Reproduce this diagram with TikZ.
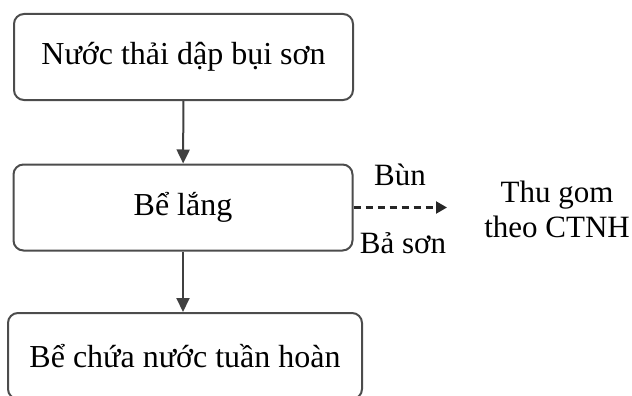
\documentclass[tikz,border=0pt]{standalone}
\usepackage{fontspec}
\setmainfont{Liberation Serif}
\usetikzlibrary{arrows.meta, positioning}

\begin{document}
\begin{tikzpicture}[x=1pt, y=-1pt,
    box/.style={draw=black!70, line width=2pt, rounded corners=10pt, inner sep=0pt,
        align=center, font=\fontsize{32}{38}\selectfont},
    flow/.style={draw=black!75, line width=2pt, -{Triangle[width=13pt,length=14pt]}},
    waste/.style={draw=black!85, line width=2.2pt, dash pattern=on 7pt off 5pt,
        -{Triangle[width=12pt,length=11pt]}},
    lbl/.style={font=\fontsize{31}{35}\selectfont, align=center, inner sep=0pt}]
    % Define dimensions
    \def\boxwidth{339}
    \def\boxheight{86}
    \useasboundingbox (0,0) rectangle (632,396);
    % Process boxes
    \node[box, minimum width=\boxwidth, minimum height=\boxheight] (nuocthai) at (183.5,57) {Nước thải dập bụi sơn};
    \node[box, minimum width=\boxwidth, minimum height=\boxheight] (belang) at (183,207.5) {Bể lắng};
    \node[box, minimum width=354, minimum height=\boxheight] (bechua) at (185,356) {Bể chứa nước tuần hoàn};
    % Waste output
    \coordinate (thugomin) at (447,207.5);
    \node[lbl] (thugom) at (557,209) {Thu gom\\theo CTNH};
    \node[lbl] (bun) at (400,175) {Bùn};
    \node[lbl] (baoson) at (403,243) {Bả sơn};
    % Connectors
    \draw[flow] (nuocthai) -- (belang);
    \draw[flow] (belang) -- (belang |- bechua.north);
    \draw[waste] (belang.east) -- (thugomin);
\end{tikzpicture}
\end{document}
